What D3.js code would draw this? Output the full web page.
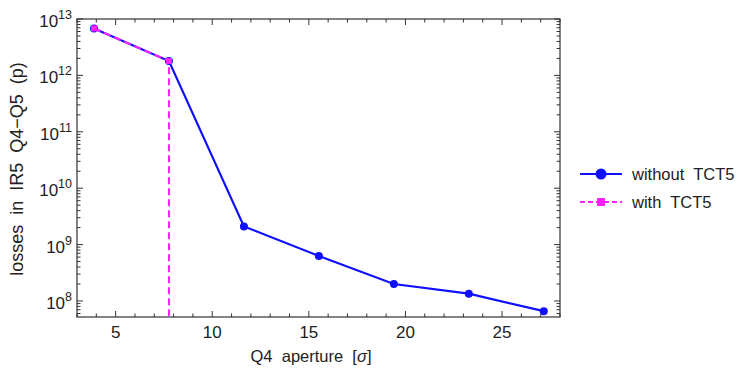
<!DOCTYPE html>
<html><head><meta charset="utf-8">
<script src="https://cdn.jsdelivr.net/npm/d3@7"></script>
<style>body{margin:0;background:#fff}svg{display:block}text{font-family:"Liberation Sans",Arial,sans-serif;fill:#222;white-space:pre}</style>
</head><body><svg id="c" width="737" height="368"></svg>
<script>
const aperture = [3.88, 7.76, 11.64, 15.52, 19.4, 23.28, 27.16];
const withoutTCT5 = [6.8e12, 1.8e12, 2.1e9, 6.3e8, 2.0e8, 1.35e8, 6.6e7];
const apertureTCT5 = [3.88, 7.76, 7.76];
const withTCT5 = [6.8e12, 1.8e12, 1];
const xTicks = [5, 10, 15, 20, 25];
const yTickExps = [8, 9, 10, 11, 12, 13];
const seriesNames = ["without  TCT5", "with  TCT5"];

const svg = d3.select("#c");
const L = 77, R = 560, T = 19, B = 317;
const x = d3.scaleLinear().domain([3, 28]).range([L, R]);
const y = d3.scaleLog().domain([5.2e7, 1e13]).range([B, T]);
const frame = "#333";

svg.append("defs").append("clipPath").attr("id", "clip")
  .append("rect").attr("x", L).attr("y", T).attr("width", R - L).attr("height", B - T);

const g = svg.append("g");
for (let v = 3; v <= 28; v++) {
  const major = v % 5 === 0;
  const len = major ? 6 : 3.5;
  g.append("line").attr("x1", x(v)).attr("x2", x(v)).attr("y1", B).attr("y2", B - len).attr("stroke", frame);
  g.append("line").attr("x1", x(v)).attr("x2", x(v)).attr("y1", T).attr("y2", T + len).attr("stroke", frame);
}
for (let e = 7; e <= 13; e++) {
  for (let m = 1; m <= 9; m++) {
    const v = m * Math.pow(10, e);
    if (v < y.domain()[0] || v > y.domain()[1]) continue;
    const len = m === 1 ? 6 : 3.5;
    g.append("line").attr("x1", L).attr("x2", L + len).attr("y1", y(v)).attr("y2", y(v)).attr("stroke", frame);
    g.append("line").attr("x1", R).attr("x2", R - len).attr("y1", y(v)).attr("y2", y(v)).attr("stroke", frame);
  }
}
svg.append("rect").attr("x", L).attr("y", T).attr("width", R - L).attr("height", B - T)
  .attr("fill", "none").attr("stroke", frame).attr("stroke-width", 1.2);

xTicks.forEach(v => {
  svg.append("text").attr("x", x(v)).attr("y", 338).attr("text-anchor", "middle")
    .attr("font-size", 17).text(v);
});
yTickExps.forEach(e => {
  const t = svg.append("text").attr("x", 72).attr("y", y(Math.pow(10, e)) + 8)
    .attr("text-anchor", "end").attr("font-size", 17);
  t.append("tspan").text("10");
  t.append("tspan").attr("font-size", 12.5).attr("dy", -8).text(e);
});

svg.append("text").attr("x", 311).attr("y", 362).attr("text-anchor", "middle").attr("font-size", 16.5)
  .html('Q4  aperture  [<tspan font-style="italic">σ</tspan>]');
svg.append("text").attr("transform", "translate(23,169) rotate(-90)").attr("text-anchor", "middle")
  .attr("font-size", 18).text("losses  in  IR5  Q4\u2212Q5  (p)");

const blue = "#1010ff", mag = "#ff22ff";
const plot = svg.append("g").attr("clip-path", "url(#clip)");
const line = d3.line().x(d => x(d[0])).y(d => y(d[1]));
const dBlue = aperture.map((a, i) => [a, withoutTCT5[i]]);
const dMag = apertureTCT5.map((a, i) => [a, withTCT5[i]]);
plot.append("path").datum(dBlue).attr("d", line).attr("fill", "none").attr("stroke", blue).attr("stroke-width", 2.2);
plot.selectAll(".pb").data(dBlue).join("circle").attr("cx", d => x(d[0])).attr("cy", d => y(d[1])).attr("r", 4).attr("fill", blue);
plot.append("path").datum(dMag).attr("d", line).attr("fill", "none").attr("stroke", mag).attr("stroke-width", 2)
  .attr("stroke-dasharray", "7,4");
plot.selectAll(".pm").data(dMag.slice(0, 2)).join("rect").attr("x", d => x(d[0]) - 3).attr("y", d => y(d[1]) - 3)
  .attr("width", 6).attr("height", 6).attr("fill", mag);

const lg = svg.append("g");
lg.append("line").attr("x1", 580).attr("x2", 622).attr("y1", 174).attr("y2", 174).attr("stroke", blue).attr("stroke-width", 2);
lg.append("circle").attr("cx", 601).attr("cy", 174).attr("r", 5.5).attr("fill", blue);
lg.append("line").attr("x1", 580).attr("x2", 622).attr("y1", 202).attr("y2", 202).attr("stroke", mag).attr("stroke-width", 2).attr("stroke-dasharray", "5,3");
lg.append("rect").attr("x", 597).attr("y", 198).attr("width", 8).attr("height", 8).attr("fill", mag);
lg.append("text").attr("x", 632).attr("y", 180).attr("font-size", 16.5).text(seriesNames[0]);
lg.append("text").attr("x", 632).attr("y", 208).attr("font-size", 16.5).text(seriesNames[1]);
</script></body></html>
